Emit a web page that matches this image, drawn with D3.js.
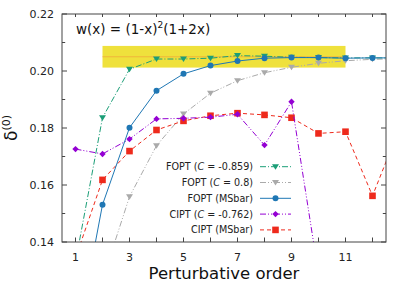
<!DOCTYPE html>
<html>
<head>
<meta charset="utf-8">
<script src="https://cdn.jsdelivr.net/npm/d3@7"></script>
<style>
  body { margin: 0; background: #fff; font-family: "DejaVu Sans", sans-serif; }
  svg { display: block; }
</style>
</head>
<body>
<svg id="chart"></svg>
<script>
// data (x = perturbative order)
let orders = [1, 2, 3, 4, 5, 6, 7, 8, 9, 10, 11, 12, 13];
let fopt_c1 = [0.133, 0.1836, 0.2006, 0.2042, 0.2042, 0.2045, 0.2054, 0.2052, 0.2048, 0.2047, 0.2046, 0.2046, 0.2046];
let fopt_c2 = [null, 0.1267, 0.1559, 0.1738, 0.1849, 0.1922, 0.1966, 0.1994, 0.2013, 0.2027, 0.2036, 0.2041, 0.2043];
let fopt_ms = [0.103, 0.1531, 0.1801, 0.1931, 0.1990, 0.2019, 0.2035, 0.2045, 0.2047, 0.2047, 0.2045, 0.2046, 0.2046];
let cipt_c = [0.1726, 0.1709, 0.1761, 0.1832, 0.1834, 0.1838, 0.1848, 0.1740, 0.1892, 0.1288, null, null, null];
let cipt_ms = [0.1344, 0.1618, 0.1719, 0.1793, 0.1825, 0.1843, 0.1852, 0.1846, 0.1836, 0.1781, 0.1787, 0.1562, 0.1800];
let band = {x0: 2, x1: 11, lo: 0.2012, hi: 0.2088, mid: 0.205};
let xTicks = [1, 3, 5, 7, 9, 11];
let yTicks = [0.14, 0.16, 0.18, 0.20, 0.22];

let series = [
  {name: "FOPT (C = -0.859)", vals: fopt_c1, color: "#1b9e77", dash: "6,2,1,2", sym: "tri"},
  {name: "FOPT (C = 0.8)", vals: fopt_c2, color: "#aaaaaa", dash: "6,2,1,2,1,2", sym: "tri"},
  {name: "FOPT (MSbar)", vals: fopt_ms, color: "#1f77b4", dash: null, sym: "circ"},
  {name: "CIPT (C = -0.762)", vals: cipt_c, color: "#9400d3", dash: "6,2,1,2,1,2", sym: "dia"},
  {name: "CIPT (MSbar)", vals: cipt_ms, color: "#ee2a1c", dash: "4,3", sym: "sq"}
];

let W = 407, H = 285;
let m = {left: 62, right: 21, top: 14, bottom: 43};
let svg = d3.select("#chart").attr("width", W).attr("height", H);

let x = d3.scaleLinear().domain([0.5, 12.5]).range([m.left, W - m.right]);
let y = d3.scaleLinear().domain([0.14, 0.22]).range([H - m.bottom, m.top]);

svg.append("defs").append("clipPath").attr("id", "clip")
  .append("rect").attr("x", m.left).attr("y", m.top)
  .attr("width", W - m.left - m.right).attr("height", H - m.top - m.bottom);

let plot = svg.append("g").attr("clip-path", "url(#clip)");

// uncertainty band
plot.append("rect")
  .attr("x", x(band.x0)).attr("width", x(band.x1) - x(band.x0))
  .attr("y", y(band.hi)).attr("height", y(band.lo) - y(band.hi))
  .attr("fill", "#efe13c");
plot.append("line")
  .attr("x1", x(band.x0)).attr("x2", x(band.x1))
  .attr("y1", y(band.mid)).attr("y2", y(band.mid))
  .attr("stroke", "#f2a43a").attr("stroke-width", 1.2).attr("opacity", 0.7);

function marker(g, sym, cx, cy, color) {
  if (sym == "circ") g.append("circle").attr("cx", cx).attr("cy", cy).attr("r", 3).attr("fill", color);
  else if (sym == "sq") g.append("rect").attr("x", cx - 3.3).attr("y", cy - 3.3).attr("width", 6.6).attr("height", 6.6).attr("fill", color);
  else if (sym == "tri") g.append("path").attr("d", `M${cx-3.5},${cy-2.5}L${cx+3.5},${cy-2.5}L${cx},${cy+3}Z`).attr("fill", color);
  else if (sym == "dia") g.append("path").attr("d", `M${cx},${cy-3.2}L${cx+3.2},${cy}L${cx},${cy+3.2}L${cx-3.2},${cy}Z`).attr("fill", color);
}

let line = d3.line()
  .defined(d => d[1] != null)
  .x(d => x(d[0])).y(d => y(d[1]));

// draw grey first so others sit on top
let order = [1, 4, 3, 0, 2];
order.forEach(i => {
  let s = series[i];
  let pts = orders.map((o, j) => [o, s.vals[j]]);
  plot.append("path").datum(pts)
    .attr("d", line)
    .attr("fill", "none")
    .attr("stroke", s.color)
    .attr("stroke-width", 1)
    .attr("stroke-dasharray", s.dash);
  let g = plot.append("g");
  pts.filter(p => p[1] != null).forEach(p => marker(g, s.sym, x(p[0]), y(p[1]), s.color));
});

// frame and ticks
let frame = svg.append("g").attr("stroke", "#444").attr("fill", "none");
frame.append("rect").attr("x", m.left).attr("y", m.top)
  .attr("width", W - m.left - m.right).attr("height", H - m.top - m.bottom)
  .attr("stroke-width", 1);

d3.range(1, 13).forEach(o => {
  frame.append("line").attr("x1", x(o)).attr("x2", x(o)).attr("y1", y(0.14)).attr("y2", y(0.14) - 4.5);
  frame.append("line").attr("x1", x(o)).attr("x2", x(o)).attr("y1", y(0.22)).attr("y2", y(0.22) + 3);
});
d3.range(0, 9).forEach(k => {
  let v = 0.14 + k * 0.01;
  let len = k % 2 == 0 ? 5 : 3.2;
  frame.append("line").attr("x1", m.left).attr("x2", m.left + len).attr("y1", y(v)).attr("y2", y(v));
  frame.append("line").attr("x1", W - m.right).attr("x2", W - m.right - len).attr("y1", y(v)).attr("y2", y(v));
});

svg.append("g").selectAll("text").data(xTicks).enter().append("text")
  .attr("x", d => x(d)).attr("y", 261)
  .attr("text-anchor", "middle").attr("font-size", 11).attr("fill", "#222")
  .text(d => d);
svg.append("g").selectAll("text").data(yTicks).enter().append("text")
  .attr("x", 54).attr("y", d => y(d) + 4)
  .attr("text-anchor", "end").attr("font-size", 11).attr("fill", "#222")
  .text(d => d.toFixed(2));

// axis titles
svg.append("text").attr("x", 224).attr("y", 279)
  .attr("text-anchor", "middle").attr("font-size", 16.5).attr("fill", "#111")
  .text("Perturbative order");
let yl = svg.append("text").attr("transform", "translate(17,128) rotate(-90)")
  .attr("text-anchor", "middle").attr("font-size", 17).attr("fill", "#111");
yl.append("tspan").text("δ");
yl.append("tspan").attr("font-size", 11).attr("dy", -7).text("(0)");

// weight function
let wt = svg.append("text").attr("x", 76).attr("y", 34).attr("font-size", 13.5).attr("fill", "#111");
wt.append("tspan").text("w(x) = (1-x)");
wt.append("tspan").attr("font-size", 9).attr("dy", -6).text("2");
wt.append("tspan").attr("dy", 6).text("(1+2x)");

// legend
let leg = svg.append("g");
series.forEach((s, i) => {
  let ly = 166.7 + i * 15.8;
  let t = leg.append("text").attr("x", 253).attr("y", ly + 3.5)
    .attr("text-anchor", "end").attr("font-size", 9.6).attr("fill", "#222");
  let mC = s.name.match(/^(\w+) \(C (.*)\)$/);
  if (mC) {
    t.append("tspan").text(mC[1] + " (");
    t.append("tspan").attr("font-style", "italic").text("C");
    t.append("tspan").text(" " + mC[2] + ")");
  } else t.text(s.name);
  leg.append("line").attr("x1", 260).attr("x2", 291).attr("y1", ly).attr("y2", ly)
    .attr("stroke", s.color).attr("stroke-width", 1).attr("stroke-dasharray", s.dash);
  marker(leg, s.sym, 275.5, ly, s.color);
});
</script>
</body>
</html>
